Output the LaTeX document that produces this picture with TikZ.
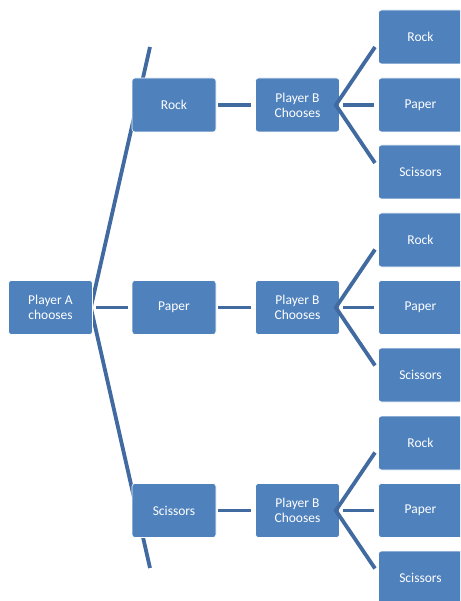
\documentclass[tikz,border=0pt]{standalone}
\usepackage{fontspec}
\setmainfont{Carlito}
\usepackage{tikz}
\usetikzlibrary{backgrounds}
\definecolor{boxblue}{RGB}{79,129,189}
\definecolor{linkblue}{RGB}{65,106,160}
\tikzset{ choice/.style = {rectangle, rounded corners=3pt, draw=white, line width=0.6pt, fill=boxblue, text=white, align=center, minimum width=84pt, minimum height=54pt, inner sep=0pt, font=\fontsize{13.5}{15}\selectfont} }
\tikzset{ link/.style = {draw=linkblue, line width=3.8pt} }

\begin{document}
\begin{tikzpicture}[x=1pt,y=-1pt]
            \clip (0,0) rectangle (460,601);
                    % player A
                    \node [style=choice] (A) at (50.5, 307.5) {Player A\\chooses};
                    \node [style=choice] (R) at (174, 105) {Rock};
                    \node [style=choice] (P) at (174, 307.5) {Paper};
                    \node [style=choice] (S) at (174, 510.5) {Scissors};
                    \coordinate (Atop) at (150, 47);
                    \coordinate (Abot) at (150, 568);
                    \begin{scope}[on background layer]
                    \draw[style=link] (Atop) -- ([xshift=-2pt]A.east) -- (Abot);
                    \end{scope}
                    \draw[style=link, shorten <=3pt, shorten >=4pt] (A.east) to (P.west);
                    % player B
                    \node [style=choice] (BR) at (297.5, 105) {Player B\\Chooses};
                    \node [style=choice] (BP) at (297.5, 307.5) {Player B\\Chooses};
                    \node [style=choice] (BS) at (297.5, 510.5) {Player B\\Chooses};
                    \draw[style=link, shorten <=2pt, shorten >=4pt] (R.east) to (BR.west);
                    \draw[style=link, shorten <=2pt, shorten >=4pt] (P.east) to (BP.west);
                    \draw[style=link, shorten <=2pt, shorten >=4pt] (S.east) to (BS.west);
                    % outcomes
                    \node [style=choice] (RR) at (420.5, 37) {Rock};
                    \node [style=choice] (RP) at (420.5, 105) {Paper};
                    \node [style=choice] (RS) at (420.5, 172) {Scissors};
                    \node [style=choice] (PR) at (420.5, 240) {Rock};
                    \node [style=choice] (PP) at (420.5, 307.5) {Paper};
                    \node [style=choice] (PS) at (420.5, 375) {Scissors};
                    \node [style=choice] (SR) at (420.5, 443) {Rock};
                    \node [style=choice] (SP) at (420.5, 510.5) {Paper};
                    \node [style=choice] (SS) at (420.5, 578) {Scissors};
                    \coordinate (BRtop) at (375, 47);
                    \coordinate (BRbot) at (375, 163);
                    \coordinate (BPtop) at (375, 249.5);
                    \coordinate (BPbot) at (375, 365.5);
                    \coordinate (BStop) at (375, 452.5);
                    \coordinate (BSbot) at (375, 568.5);
                    \draw[style=link] (BRtop) -- ([xshift=-4pt]BR.east) -- (BRbot);
                    \draw[style=link] (BPtop) -- ([xshift=-4pt]BP.east) -- (BPbot);
                    \draw[style=link] (BStop) -- ([xshift=-4pt]BS.east) -- (BSbot);
                    \draw[style=link, shorten <=3pt, shorten >=4pt] (BR.east) to (RP.west);
                    \draw[style=link, shorten <=3pt, shorten >=4pt] (BP.east) to (PP.west);
                    \draw[style=link, shorten <=3pt, shorten >=4pt] (BS.east) to (SP.west);
            \end{tikzpicture}
\end{document}
